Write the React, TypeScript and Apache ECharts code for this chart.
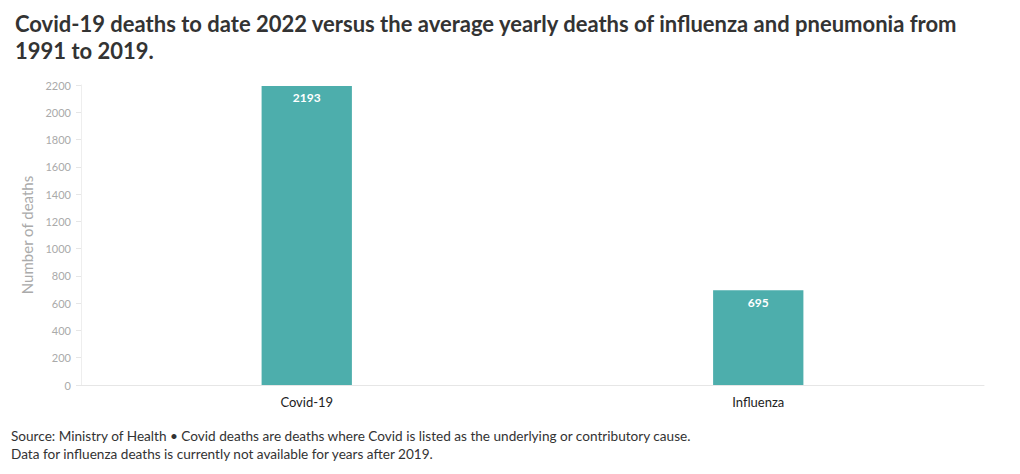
import React, { useEffect, useRef } from "react";
import * as echarts from "echarts";

const categories = ["Covid-19", "Influenza"];
const deaths = [2193, 695];
const titleLines = [
  "Covid-19 deaths to date 2022 versus the average yearly deaths of influenza and pneumonia from",
  "1991 to 2019.",
];
const footerLines = [
  "Source: Ministry of Health • Covid deaths are deaths where Covid is listed as the underlying or contributory cause.",
  "Data for influenza deaths is currently not available for years after 2019.",
];

const FONT = "Lato, 'Noto Sans', sans-serif";

export default function App() {
  const ref = useRef<HTMLDivElement>(null);
  useEffect(() => {
    if (!ref.current) return;
    const chart = echarts.init(ref.current, undefined, { renderer: "svg" });
    chart.setOption({
      animation: false,
      textStyle: { fontFamily: FONT },
      title: {
        text: titleLines.join("\n"),
        left: 2,
        top: -3,
        textStyle: {
          fontFamily: FONT,
          fontSize: 22,
          fontWeight: "bold",
          color: "#333333",
          lineHeight: 27,
        },
      },
      grid: { left: 73, right: 28, top: 77, bottom: 81 },
      xAxis: {
        type: "category",
        data: categories,
        axisLine: { lineStyle: { color: "#e6e6e6" } },
        axisTick: { alignWithLabel: true, lineStyle: { color: "#e6e6e6" }, length: 5 },
        axisLabel: { color: "#222222", fontSize: 13, margin: 10, fontFamily: FONT },
      },
      yAxis: {
        type: "value",
        min: 0,
        max: 2200,
        interval: 200,
        name: "Number of deaths",
        nameLocation: "middle",
        nameGap: 44,
        nameTextStyle: { color: "#aaaaaa", fontSize: 15, fontFamily: FONT },
        axisLine: { show: true, lineStyle: { color: "#eeeeee" } },
        axisTick: { show: true, length: 5, lineStyle: { color: "#e6e6e6" } },
        axisLabel: {
          color: "#aaaaaa",
          fontSize: 11,
          margin: 10,
          fontFamily: FONT,
          formatter: (v: number) => String(v),
        },
        splitLine: { show: false },
      },
      series: [
        {
          type: "bar",
          data: deaths,
          barWidth: "20%",
          itemStyle: { color: "#4daeac" },
          label: {
            show: true,
            position: "insideTop",
            distance: 6,
            color: "#ffffff",
            fontWeight: "bold",
            fontSize: 12,
            fontFamily: FONT,
          },
        },
      ],
      graphic: footerLines.map((t, i) => ({
        type: "text",
        left: 3,
        top: 421 + i * 18,
        style: { text: t, fill: "#333333", fontSize: 13.6, fontFamily: FONT },
      })),
    });
    return () => chart.dispose();
  }, []);
  return <div ref={ref} style={{ width: 1004, height: 458 }} />;
}
